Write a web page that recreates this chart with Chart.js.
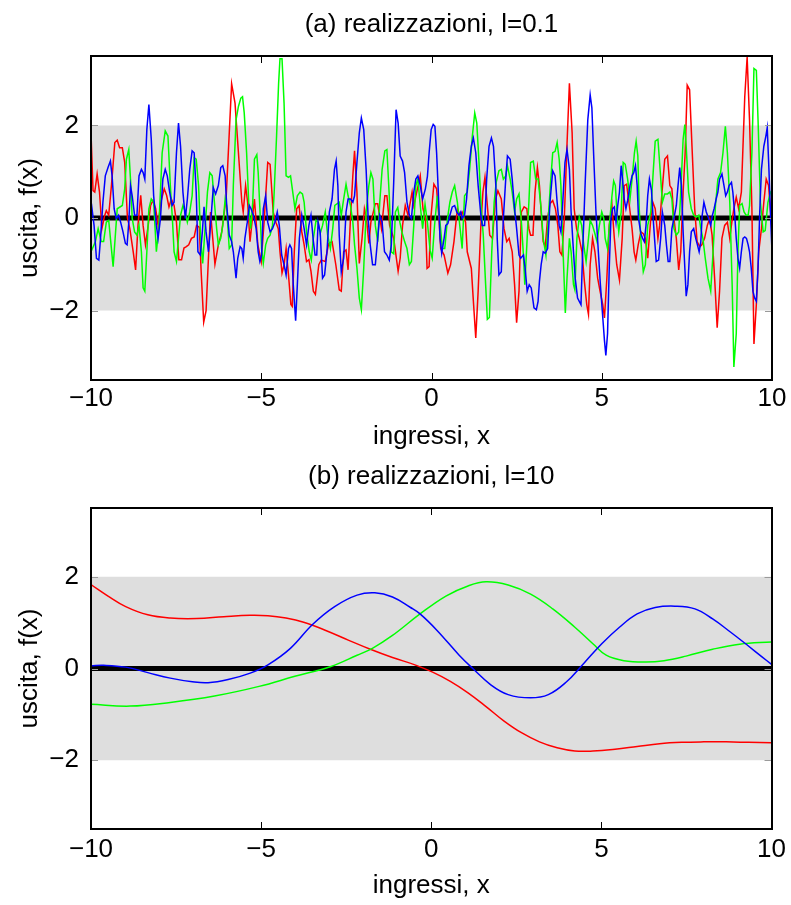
<!DOCTYPE html>
<html><head><meta charset="utf-8">
<script src="https://cdn.jsdelivr.net/npm/chart.js@4.4.0/dist/chart.umd.min.js"></script>
<style>
html,body{margin:0;padding:0;background:#fff;}
#wrap{position:relative;width:791px;height:905px;background:#fff;}
canvas{position:absolute;left:0;}
</style>
</head><body>
<div id="wrap">
<canvas id="c1" width="791" height="452" style="top:0px"></canvas>
<canvas id="c2" width="791" height="453" style="top:452px"></canvas>
</div>
<script>
// ---------- data ----------
const xTicks = [-10, -5, 0, 5, 10];
const yTicks = [-2, 0, 2];
const bandX = [-10, 10];
const bandUpper = [2, 2];
const bandLower = [-2, -2];
const meanY = [0, 0];

// (a) l = 0.1
const redA = [[-10,1.84],[-9.94,0.59],[-9.89,0.56],[-9.82,0.95],[-9.75,0.56],[-9.68,-0.23],[-9.6,0.05],[-9.55,0.16],[-9.48,0.06],[-9.4,0.7],[-9.3,1.63],[-9.23,1.68],[-9.16,1.52],[-9.08,1.52],[-9.01,1.2],[-8.93,0],[-8.86,-0.23],[-8.76,-0.73],[-8.69,-1.12],[-8.62,-0.16],[-8.54,0.49],[-8.47,-0.16],[-8.4,-0.58],[-8.32,-0.16],[-8.25,0.27],[-8.18,0.38],[-8.1,0.2],[-8.03,-0.16],[-7.95,0.34],[-7.85,0.63],[-7.78,0.49],[-7.71,0.24],[-7.64,0.41],[-7.56,0.27],[-7.49,-0.09],[-7.42,-0.9],[-7.34,-0.9],[-7.27,-0.65],[-7.2,-0.62],[-7.13,-0.58],[-7.05,-0.44],[-6.97,-0.41],[-6.9,-0.16],[-6.82,-0.2],[-6.76,-1.23],[-6.69,-2.25],[-6.62,-2.0],[-6.49,0.13],[-6.36,-1.0],[-6.26,-0.58],[-6.16,-0.3],[-6.03,0.45],[-5.87,2.9],[-5.77,2.48],[-5.67,1.41],[-5.57,0.34],[-5.53,0.13],[-5.46,0.7],[-5.4,0.34],[-5.33,-0.51],[-5.26,-0.01],[-5.2,0.41],[-5.1,-0.58],[-5.0,-0.94],[-4.91,-0.01],[-4.81,1.2],[-4.74,1.16],[-4.65,0.13],[-4.57,-0.09],[-4.5,-0.23],[-4.45,-0.73],[-4.39,-1.19],[-4.33,-1.01],[-4.27,-0.66],[-4.2,-1.23],[-4.13,-1.87],[-4.09,-1.91],[-4.03,-0.73],[-3.96,0.2],[-3.89,0.27],[-3.81,-0.3],[-3.74,-0.58],[-3.67,-0.94],[-3.6,-0.9],[-3.54,-1.15],[-3.47,-1.58],[-3.41,-1.65],[-3.31,-1.01],[-3.24,-0.91],[-3.12,-0.94],[-3.02,-0.55],[-2.92,-0.51],[-2.81,-1.01],[-2.71,-1.55],[-2.65,-1.58],[-2.58,-0.73],[-2.51,-0.69],[-2.45,-1.12],[-2.38,-0.01],[-2.31,0.92],[-2.26,1.45],[-2.19,0.56],[-2.12,-0.98],[-2.04,-0.44],[-1.97,0.2],[-1.91,-0.01],[-1.84,-0.55],[-1.78,-0.09],[-1.65,0.31],[-1.58,0.31],[-1.47,-0.23],[-1.37,0.48],[-1.31,0.48],[-1.23,-0.16],[-1.11,-0.44],[-0.98,-1.15],[-0.92,-0.87],[-0.85,-0.16],[-0.77,0.27],[-0.69,0.06],[-0.57,0.56],[-0.52,0.27],[-0.33,0.91],[-0.25,0.2],[-0.18,0.0],[-0.13,-1.09],[-0.07,-1.05],[-0.02,-0.01],[0.07,0.73],[0.15,0.63],[0.22,-0.01],[0.27,-0.66],[0.37,-0.8],[0.48,-1.19],[0.56,-1.01],[0.66,-0.51],[0.76,0.2],[0.84,0.06],[0.9,0.13],[1.0,-0.09],[1.05,-0.73],[1.17,-1.09],[1.23,-1.8],[1.3,-2.59],[1.37,-1.58],[1.45,-0.16],[1.51,0.56],[1.57,0.88],[1.64,0.27],[1.71,-0.37],[1.79,-0.44],[1.88,0.41],[1.95,0.59],[2.05,0.41],[2.13,-0.23],[2.21,-0.51],[2.28,-0.44],[2.37,-0.73],[2.44,-1.44],[2.5,-2.26],[2.57,-1.58],[2.64,0.13],[2.72,0.24],[2.8,0.2],[2.86,-0.23],[2.91,-0.37],[2.98,-0.37],[3.04,0.56],[3.11,1.09],[3.17,0.7],[3.22,0.13],[3.28,-0.51],[3.34,-0.62],[3.41,-0.01],[3.48,0.31],[3.56,0.38],[3.64,0.2],[3.71,-0.16],[3.77,-0.73],[3.83,-0.8],[3.9,-0.01],[3.97,1.41],[4.05,2.91],[4.13,1.84],[4.19,0.2],[4.26,-0.23],[4.34,-0.44],[4.42,-0.73],[4.49,-1.37],[4.56,-1.87],[4.61,-2.08],[4.66,-1.01],[4.73,-0.44],[4.8,-0.73],[4.88,-1.3],[4.95,-1.58],[5.03,-1.87],[5.08,-2.16],[5.15,-1.3],[5.22,-0.16],[5.3,0.27],[5.37,-0.44],[5.44,-1.01],[5.52,-1.34],[5.6,-0.44],[5.66,0.7],[5.73,0.73],[5.81,0.27],[5.89,-0.23],[5.95,-0.73],[6.0,-0.91],[6.07,-0.58],[6.15,-0.3],[6.22,-0.34],[6.28,-0.44],[6.35,-0.87],[6.44,-0.01],[6.5,0.34],[6.57,0.2],[6.65,-0.44],[6.7,-0.16],[6.77,0.56],[6.85,1.27],[6.93,1.34],[7.0,0.7],[7.06,0.63],[7.12,-0.01],[7.19,-0.44],[7.26,-1.12],[7.32,-0.73],[7.39,0.56],[7.45,1.41],[7.51,2.87],[7.58,2.77],[7.65,1.55],[7.73,0.2],[7.8,-0.51],[7.88,-0.62],[7.94,-0.58],[8.02,-0.44],[8.1,-0.16],[8.17,-0.01],[8.24,-0.37],[8.32,-1.37],[8.39,-2.37],[8.46,-1.58],[8.53,-0.44],[8.61,-0.16],[8.69,-0.09],[8.76,-0.44],[8.82,-0.09],[8.88,0.2],[8.95,0.45],[9.02,0.2],[9.1,0.56],[9.2,2.62],[9.27,3.48],[9.34,2.12],[9.41,0.2],[9.47,-2.72],[9.54,-1.87],[9.61,-0.73],[9.69,-0.23],[9.76,0.34],[9.83,0.84],[9.9,0.7],[9.96,0.13],[10,-0.3]];

const greenA = [[-10,-0.73],[-9.87,-0.51],[-9.79,-0.23],[-9.7,-0.51],[-9.63,-0.51],[-9.55,-0.09],[-9.48,-0.05],[-9.35,-1.05],[-9.23,0.2],[-9.08,0.27],[-9.01,0.63],[-8.96,1.27],[-8.89,1.48],[-8.83,0.7],[-8.79,-0.01],[-8.72,-0.3],[-8.65,-0.37],[-8.59,-0.16],[-8.52,-0.73],[-8.47,-1.51],[-8.42,-1.58],[-8.36,-0.73],[-8.3,0.2],[-8.23,0.41],[-8.16,0.34],[-8.08,-0.73],[-8.01,-0.23],[-7.91,1.41],[-7.82,1.88],[-7.74,1.77],[-7.67,0.7],[-7.61,-0.01],[-7.56,-0.73],[-7.49,-0.94],[-7.43,-0.44],[-7.37,0.06],[-7.3,0.27],[-7.23,0.13],[-7.17,-0.09],[-7.1,0.13],[-7.03,0.48],[-6.97,1.3],[-6.91,1.27],[-6.84,0.7],[-6.78,-0.44],[-6.72,-0.98],[-6.65,-0.23],[-6.58,0.56],[-6.51,0.98],[-6.44,0.91],[-6.36,0.2],[-6.31,-0.23],[-6.26,-0.58],[-6.19,-0.44],[-6.13,-0.16],[-6.06,0.41],[-6.02,0.27],[-5.94,-0.66],[-5.87,-0.58],[-5.82,0.7],[-5.74,2.12],[-5.67,2.41],[-5.6,2.59],[-5.55,2.62],[-5.5,2.27],[-5.43,1.41],[-5.36,0.2],[-5.31,-0.23],[-5.25,0.34],[-5.2,1.27],[-5.13,1.37],[-5.09,0.98],[-5.04,0.2],[-4.99,-0.66],[-4.94,-0.98],[-4.87,-0.58],[-4.81,-0.44],[-4.74,-0.37],[-4.67,-0.16],[-4.62,0.56],[-4.55,1.77],[-4.49,2.91],[-4.45,3.44],[-4.39,3.44],[-4.33,2.48],[-4.27,0.91],[-4.2,0.88],[-4.14,0.91],[-4.06,0.48],[-4.01,0.2],[-3.94,0.48],[-3.86,0.56],[-3.79,0.52],[-3.74,0.34],[-3.67,-0.3],[-3.59,-0.73],[-3.53,-0.91],[-3.47,-0.44],[-3.39,-0.05],[-3.33,-0.09],[-3.27,-0.34],[-3.2,-0.16],[-3.12,0.13],[-3.05,-0.37],[-2.97,-0.66],[-2.9,-0.23],[-2.84,0.27],[-2.71,0.34],[-2.65,0.06],[-2.58,0.41],[-2.51,0.73],[-2.45,0.48],[-2.38,0.27],[-2.31,-0.09],[-2.26,-0.58],[-2.19,-1.08],[-2.12,-1.73],[-2.06,-1.98],[-1.99,-1.08],[-1.92,0.13],[-1.84,0.7],[-1.78,0.98],[-1.72,0.84],[-1.65,-0.16],[-1.58,-0.51],[-1.52,0.34],[-1.45,1.05],[-1.37,1.45],[-1.31,1.48],[-1.24,0.48],[-1.18,-0.73],[-1.11,-0.77],[-1.06,0.13],[-0.99,0.23],[-0.93,-0.09],[-0.87,-0.3],[-0.79,-0.51],[-0.72,-0.66],[-0.65,-1.01],[-0.59,-0.94],[-0.52,-0.16],[-0.46,0.7],[-0.4,0.84],[-0.33,0.27],[-0.26,-0.23],[-0.19,0.3],[-0.12,-0.1],[-0.04,-0.7],[0.02,-0.87],[0.09,-0.16],[0.17,0.48],[0.24,-0.01],[0.32,-0.66],[0.39,-0.66],[0.47,-0.01],[0.54,0.34],[0.61,0.56],[0.68,0.7],[0.76,0.34],[0.84,-0.23],[0.9,-0.66],[0.97,0.48],[1.05,0.56],[1.12,1.05],[1.2,1.77],[1.27,2.27],[1.33,2.05],[1.39,1.27],[1.46,0.2],[1.52,-0.37],[1.59,-1.44],[1.64,-2.19],[1.7,-2.15],[1.77,-0.73],[1.84,0.34],[1.9,0.77],[1.98,1.02],[2.05,1.05],[2.11,0.84],[2.18,0.91],[2.23,1.13],[2.31,0.84],[2.37,0.56],[2.44,0.13],[2.5,0.41],[2.57,0.52],[2.64,-0.09],[2.7,-0.8],[2.74,-1.44],[2.8,-0.58],[2.86,0.34],[2.91,1.2],[2.99,1.23],[3.06,0.84],[3.13,0.84],[3.22,0.2],[3.28,-0.44],[3.36,-0.8],[3.43,-0.01],[3.49,0.7],[3.56,1.41],[3.63,1.44],[3.69,1.63],[3.75,1.27],[3.8,0.7],[3.85,-0.44],[3.9,-1.44],[3.93,-2.05],[3.98,-1.3],[4.05,-0.44],[4.1,-0.73],[4.17,-1.44],[4.21,-1.55],[4.27,-0.44],[4.34,0.02],[4.41,-0.16],[4.47,-0.58],[4.54,-0.94],[4.61,-0.44],[4.66,-0.05],[4.73,-0.16],[4.8,-0.34],[4.86,-0.51],[4.93,-0.16],[5.0,0.13],[5.06,-0.01],[5.1,-0.44],[5.17,-0.66],[5.24,-0.01],[5.3,0.48],[5.35,0.8],[5.4,0.7],[5.45,0.06],[5.5,-0.3],[5.57,0.13],[5.63,1.2],[5.69,1.16],[5.76,0.84],[5.83,0.41],[5.89,0.84],[5.96,1.41],[6.01,1.66],[6.06,1.34],[6.1,0.2],[6.17,-0.73],[6.22,-1.16],[6.28,-1.01],[6.35,-0.16],[6.44,0.13],[6.51,0.98],[6.57,1.66],[6.65,1.7],[6.72,0.98],[6.78,0.34],[6.85,0.52],[6.93,0.52],[7.0,0.56],[7.06,0.41],[7.12,-0.23],[7.19,-0.37],[7.26,-0.3],[7.32,0.56],[7.39,1.7],[7.44,2.02],[7.48,1.55],[7.55,0.56],[7.63,0.2],[7.7,0.06],[7.78,0.02],[7.85,0.06],[7.91,-0.23],[7.97,-0.44],[8.04,-0.87],[8.12,-1.3],[8.2,-1.58],[8.27,-0.73],[8.34,0.27],[8.41,0.84],[8.49,0.98],[8.56,1.41],[8.63,1.98],[8.69,1.41],[8.76,0.34],[8.83,-1.44],[8.88,-3.22],[8.95,-2.5],[9.0,-0.73],[9.05,0.27],[9.12,0.31],[9.18,0.13],[9.24,0.06],[9.3,0.06],[9.34,0.27],[9.41,1.41],[9.47,3.23],[9.54,3.19],[9.59,2.12],[9.66,0.34],[9.74,-0.3],[9.8,-0.27],[9.88,0.34],[9.96,0.56],[10,0.6]];

const blueA = [[-10,0.06],[-9.97,0.2],[-9.91,-0.16],[-9.84,-0.87],[-9.77,-0.91],[-9.72,-0.44],[-9.65,0.34],[-9.58,0.91],[-9.5,1.09],[-9.43,1.23],[-9.38,0.91],[-9.32,0.2],[-9.26,-0.01],[-9.19,0.06],[-9.13,-0.09],[-9.06,-0.3],[-8.99,-0.55],[-8.94,-0.58],[-8.89,-0.09],[-8.84,0.7],[-8.79,0.48],[-8.72,0.06],[-8.65,0.06],[-8.59,0.91],[-8.52,1.05],[-8.47,0.98],[-8.42,0.84],[-8.36,1.91],[-8.3,2.45],[-8.23,1.7],[-8.16,0.48],[-8.08,-0.16],[-8.03,-0.44],[-7.96,-0.01],[-7.89,0.84],[-7.82,1.05],[-7.76,0.91],[-7.69,0.56],[-7.62,0.27],[-7.56,0.34],[-7.49,1.41],[-7.43,2.05],[-7.37,1.55],[-7.3,0.56],[-7.23,-0.01],[-7.17,0.41],[-7.1,1.05],[-7.03,1.45],[-6.97,1.41],[-6.91,0.56],[-6.86,-0.73],[-6.79,-0.8],[-6.73,-0.3],[-6.68,0.24],[-6.62,-0.3],[-6.55,-0.73],[-6.49,-0.16],[-6.41,0.66],[-6.34,0.52],[-6.26,0.7],[-6.19,1.09],[-6.13,1.13],[-6.06,0.91],[-6.02,0.34],[-5.94,-0.37],[-5.87,-0.51],[-5.82,-0.73],[-5.74,-1.3],[-5.69,-0.87],[-5.62,-0.62],[-5.57,-0.66],[-5.53,-0.87],[-5.48,-0.44],[-5.41,-0.09],[-5.35,0.27],[-5.3,0.2],[-5.23,0.06],[-5.15,-0.23],[-5.09,-0.73],[-5.04,-0.94],[-4.99,-0.8],[-4.94,0.2],[-4.87,0.48],[-4.81,-0.09],[-4.74,-0.3],[-4.67,-0.23],[-4.6,-0.09],[-4.53,0.13],[-4.47,-0.16],[-4.4,-0.8],[-4.33,-1.01],[-4.27,-1.23],[-4.2,-0.66],[-4.16,-0.58],[-4.11,-0.66],[-4.06,-1.44],[-3.99,-2.22],[-3.94,-1.44],[-3.88,-0.44],[-3.81,0.06],[-3.74,-0.23],[-3.67,-0.58],[-3.6,-0.16],[-3.54,0.06],[-3.47,-0.5],[-3.42,-0.8],[-3.37,-0.8],[-3.33,-0.09],[-3.27,-0.3],[-3.2,-1.3],[-3.14,-1.23],[-3.07,-0.73],[-3.0,0.13],[-2.92,0.41],[-2.85,1.05],[-2.8,1.23],[-2.75,0.7],[-2.71,-0.37],[-2.65,-1.16],[-2.58,-0.87],[-2.51,0.13],[-2.45,0.41],[-2.38,0.41],[-2.31,0.34],[-2.26,0.48],[-2.19,1.2],[-2.12,1.84],[-2.06,2.16],[-1.99,1.91],[-1.92,1.05],[-1.86,-0.01],[-1.8,-0.58],[-1.73,-1.01],[-1.65,-1.01],[-1.58,-0.44],[-1.52,0.06],[-1.45,-0.09],[-1.38,-0.73],[-1.31,-0.8],[-1.24,-0.91],[-1.18,-0.58],[-1.11,0.77],[-1.04,2.34],[-0.98,2.05],[-0.92,1.34],[-0.85,1.23],[-0.79,0.98],[-0.72,0.34],[-0.65,0.06],[-0.59,-0.01],[-0.52,0.56],[-0.46,0.84],[-0.4,0.91],[-0.33,0.7],[-0.26,0.41],[-0.18,0.63],[-0.12,0.9],[-0.07,1.41],[-0.01,1.91],[0.05,2.02],[0.1,1.98],[0.15,1.41],[0.2,0.56],[0.25,-0.44],[0.3,-0.76],[0.37,-0.44],[0.42,-0.16],[0.48,-0.12],[0.54,0.06],[0.61,0.24],[0.68,0.27],[0.74,0.13],[0.81,0.06],[0.86,0.13],[0.9,-0.01],[0.97,0.06],[1.03,0.41],[1.1,1.13],[1.17,1.55],[1.23,1.73],[1.3,1.41],[1.37,0.7],[1.45,0.06],[1.49,-0.16],[1.56,-0.16],[1.62,0.84],[1.69,1.55],[1.76,1.73],[1.82,1.55],[1.89,0.7],[1.93,-0.44],[1.98,-1.23],[2.05,-1.16],[2.11,-0.01],[2.18,0.84],[2.23,1.34],[2.31,1.27],[2.37,0.84],[2.44,0.2],[2.5,-0.23],[2.57,-0.8],[2.62,-0.87],[2.7,-0.8],[2.75,-1.09],[2.81,-1.58],[2.87,-1.44],[2.93,-1.51],[3.01,-1.94],[3.08,-1.98],[3.13,-1.8],[3.17,-1.37],[3.22,-1.01],[3.28,-0.73],[3.34,-0.76],[3.41,-0.66],[3.48,0.34],[3.56,1.02],[3.63,0.91],[3.69,0.34],[3.75,-0.16],[3.8,-0.3],[3.85,0.27],[3.92,1.2],[3.98,1.48],[4.05,1.05],[4.1,0.13],[4.17,-0.73],[4.22,-1.3],[4.29,-1.73],[4.34,-1.8],[4.39,-1.87],[4.44,-0.73],[4.51,0.7],[4.59,2.12],[4.66,2.66],[4.71,2.38],[4.76,1.41],[4.83,0.13],[4.9,-0.73],[4.96,-1.44],[5.03,-2.15],[5.08,-2.65],[5.12,-2.97],[5.17,-2.5],[5.22,-1.08],[5.27,-0.01],[5.32,0.2],[5.37,0.24],[5.42,-0.09],[5.47,0.27],[5.52,0.56],[5.57,1.13],[5.61,0.84],[5.66,0.41],[5.71,0.2],[5.76,0.38],[5.83,0.7],[5.89,0.91],[5.94,0.98],[5.99,1.13],[6.04,0.7],[6.08,-0.01],[6.15,-0.34],[6.2,-0.44],[6.25,-0.51],[6.3,-0.16],[6.35,0.48],[6.4,0.84],[6.46,0.6],[6.51,-0.01],[6.55,-0.44],[6.6,-0.94],[6.67,-0.91],[6.73,-0.44],[6.78,0.13],[6.85,-0.16],[6.9,-0.58],[6.95,-0.94],[7.0,-0.94],[7.06,-0.23],[7.12,-0.01],[7.19,0.27],[7.24,0.7],[7.29,1.09],[7.34,0.7],[7.39,-0.3],[7.44,-1.08],[7.48,-1.69],[7.53,-1.44],[7.58,-0.73],[7.63,-0.3],[7.7,-0.23],[7.76,-0.44],[7.81,-0.58],[7.86,-0.73],[7.91,-0.51],[7.95,0.06],[8.0,0.34],[8.07,0.13],[8.14,-0.01],[8.2,-0.16],[8.25,0.06],[8.3,0.2],[8.36,0.41],[8.41,0.56],[8.46,0.84],[8.53,0.95],[8.59,0.7],[8.64,0.48],[8.69,0.56],[8.74,0.7],[8.81,0.77],[8.85,0.56],[8.9,0.13],[8.95,-0.44],[9.0,-0.87],[9.05,-1.08],[9.1,-0.73],[9.15,-0.44],[9.2,-0.41],[9.25,-0.44],[9.3,-0.58],[9.34,-0.73],[9.39,-1.08],[9.44,-1.58],[9.49,-1.73],[9.54,-1.8],[9.59,-1.08],[9.64,0.13],[9.69,1.05],[9.76,1.55],[9.82,1.77],[9.86,1.95],[9.91,1.05],[9.96,-0.01],[10,-0.73]];

// (b) l = 10
const redB = [[-10,1.83],[-9.5,1.58],[-8.98,1.35],[-8.33,1.17],[-7.67,1.1],[-6.89,1.09],[-6.1,1.13],[-5.32,1.16],[-4.8,1.15],[-4.27,1.1],[-3.75,1.01],[-3.1,0.83],[-2.44,0.62],[-1.79,0.42],[-1.14,0.24],[-0.48,0.08],[0.04,-0.08],[0.56,-0.28],[1.08,-0.53],[1.61,-0.83],[2.13,-1.14],[2.65,-1.4],[3.18,-1.6],[3.7,-1.73],[4.22,-1.8],[4.75,-1.8],[5.4,-1.76],[6.05,-1.7],[6.71,-1.64],[7.36,-1.61],[8.01,-1.6],[8.67,-1.6],[9.32,-1.61],[10,-1.62]];
const greenB = [[-10,-0.78],[-8.85,-0.82],[-7.67,-0.74],[-6.37,-0.6],[-5.06,-0.39],[-4.01,-0.17],[-2.97,0.04],[-2.18,0.29],[-1.73,0.44],[-1.14,0.72],[-0.33,1.19],[0.43,1.58],[1.08,1.8],[1.61,1.89],[2.26,1.82],[2.92,1.62],[3.57,1.3],[4.22,0.9],[4.75,0.54],[5.14,0.29],[5.66,0.17],[6.31,0.14],[6.84,0.17],[7.49,0.27],[8.27,0.42],[9.06,0.53],[10,0.58]];
const blueB = [[-10,0.06],[-9.63,0.07],[-8.98,0.03],[-8.33,-0.09],[-7.67,-0.21],[-7.02,-0.29],[-6.56,-0.31],[-5.97,-0.24],[-5.32,-0.1],[-4.8,0.08],[-4.14,0.44],[-3.49,0.96],[-2.84,1.35],[-2.18,1.6],[-1.66,1.65],[-1.14,1.56],[-0.61,1.33],[-0.33,1.19],[0.17,0.83],[0.82,0.29],[1.22,0],[1.74,-0.35],[2.26,-0.57],[2.92,-0.64],[3.44,-0.57],[3.96,-0.3],[4.48,0.11],[5.01,0.54],[5.53,0.9],[6.05,1.19],[6.58,1.33],[7.16,1.36],[7.75,1.3],[8.27,1.08],[8.8,0.79],[9.32,0.49],[9.71,0.26],[10,0.09]];

// ---------- drawing ----------
const FONT_FAMILY = '"Liberation Sans", Arial, Helvetica, sans-serif';
const FS = 26;
const LH = FS * 1.2;
const fmt = v => (v < 0 ? '\u2212' + Math.abs(v) : String(v));
const toPts = arr => arr.map(p => ({x: p[0], y: p[1]}));

const framePlugin = {
  id: 'frame',
  afterDatasetsDraw(chart) {
    const {ctx, chartArea: a, scales: {x, y}} = chart;
    ctx.save();
    ctx.strokeStyle = '#000';
    ctx.lineWidth = 1;
    ctx.beginPath();
    x.ticks.forEach(t => {
      const px = Math.round(x.getPixelForValue(t.value)) + 0.5;
      ctx.moveTo(px, a.top); ctx.lineTo(px, a.top + 7);
      ctx.moveTo(px, a.bottom); ctx.lineTo(px, a.bottom - 7);
    });
    ctx.stroke();
    ctx.strokeStyle = '#9a9a9a';
    ctx.beginPath();
    y.ticks.forEach(t => {
      const py = Math.round(y.getPixelForValue(t.value)) + 0.5;
      ctx.moveTo(a.left, py); ctx.lineTo(a.left + 7, py);
      ctx.moveTo(a.right, py); ctx.lineTo(a.right - 7, py);
    });
    ctx.stroke();
    ctx.strokeStyle = '#000';
    ctx.lineWidth = 2;
    ctx.strokeRect(Math.round(a.left), Math.round(a.top),
                   Math.round(a.right) - Math.round(a.left), Math.round(a.bottom) - Math.round(a.top));
    ctx.restore();
  }
};

function makeChart(id, H, cfg) {
  const font = {family: FONT_FAMILY, size: FS, weight: 'normal'};
  const lineDs = (arr, color, order) => ({
    data: toPts(arr), borderColor: color, borderWidth: 1.5, pointRadius: 0,
    fill: false, order: order, tension: cfg.smooth ? 0.4 : 0
  });
  return new Chart(document.getElementById(id), {
    type: 'line',
    data: {
      datasets: [
        {data: bandX.map((x, i) => ({x, y: bandUpper[i]})), borderWidth: 0, pointRadius: 0,
         fill: '+1', backgroundColor: '#dedede', borderColor: 'rgba(0,0,0,0)', order: 10},
        {data: bandX.map((x, i) => ({x, y: bandLower[i]})), borderWidth: 0, pointRadius: 0,
         fill: false, borderColor: 'rgba(0,0,0,0)', order: 10},
        {data: bandX.map((x, i) => ({x, y: meanY[i]})), borderColor: '#000', borderWidth: 5,
         pointRadius: 0, fill: false, order: 5},
        lineDs(cfg.red, '#ff0000', 3),
        lineDs(cfg.green, '#00ff00', 2),
        lineDs(cfg.blue, '#0000ff', 1)
      ]
    },
    options: {
      responsive: false, animation: false, devicePixelRatio: 1,
      layout: {padding: {left: 0, right: 791 - 772, top: 0, bottom: 0}},
      plugins: {
        legend: {display: false}, tooltip: {enabled: false},
        filler: {drawTime: 'beforeDatasetsDraw'},
        title: {display: true, text: cfg.title, color: '#000', font: font, fullSize: false,
                padding: {top: cfg.titleTop, bottom: cfg.areaTop - cfg.titleTop - LH}}
      },
      scales: {
        x: {
          type: 'linear', min: -10, max: 10,
          afterBuildTicks: s => { s.ticks = xTicks.map(v => ({value: v})); },
          afterFit: s => { s.height = H - cfg.areaBottom; },
          ticks: {callback: fmt, color: '#000', font: font, padding: cfg.xTickPad, maxRotation: 0, autoSkip: false},
          grid: {display: false, drawTicks: false},
          border: {display: false},
          title: {display: true, text: 'ingressi, x', color: '#000', font: font,
                  padding: {top: 0, bottom: cfg.xTitleBottom}}
        },
        y: {
          type: 'linear', min: -3.5, max: 3.5,
          afterBuildTicks: s => { s.ticks = yTicks.map(v => ({value: v})); },
          afterFit: s => { s.width = 91; },
          ticks: {callback: fmt, color: '#000', font: font, padding: 12, autoSkip: false},
          grid: {display: false, drawTicks: false},
          border: {display: false},
          title: {display: true, text: 'uscita, f(x)', color: '#000', font: font,
                  padding: {top: 30 - LH / 2, bottom: 0}}
        }
      }
    },
    plugins: [framePlugin]
  });
}

makeChart('c1', 452, {
  title: '(a) realizzazioni, l=0.1', red: redA, green: greenA, blue: blueA, smooth: false,
  titleTop: 25 - LH / 2, areaTop: 56, areaBottom: 380, xTickPad: 3, xTitleBottom: 452 - 437 - LH / 2
});
makeChart('c2', 453, {
  title: '(b) realizzazioni, l=10', red: redB, green: greenB, blue: blueB, smooth: true,
  titleTop: 25 - LH / 2, areaTop: 56, areaBottom: 377, xTickPad: 5, xTitleBottom: 453 - 434 - LH / 2
});
</script>
</body></html>
